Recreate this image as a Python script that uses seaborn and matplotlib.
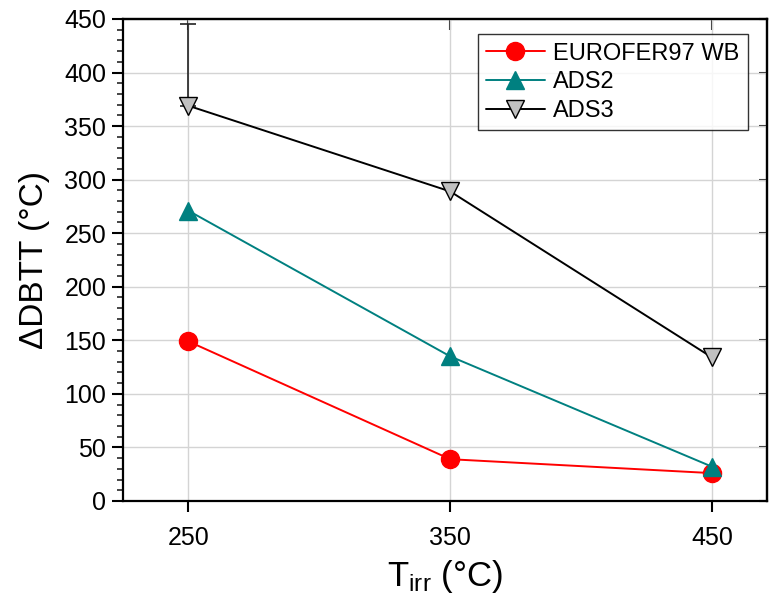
import matplotlib
matplotlib.use("Agg")
import matplotlib.pyplot as plt
import seaborn as sns
import pandas as pd
from matplotlib.ticker import MultipleLocator

# Irradiation temperatures and DBTT shifts
t_irr = [250, 350, 450]
eurofer_wb = [149, 39, 26]
ads2 = [271, 135, 32]
ads3 = [369, 289, 134]
ads3_err_upper = [76, 0, 0]

series_names = ["EUROFER97 WB", "ADS2", "ADS3"]

sns.set_theme(style="white")
plt.rcParams["font.family"] = ["Liberation Sans", "DejaVu Sans"]
plt.rcParams["mathtext.fontset"] = "custom"
plt.rcParams["mathtext.rm"] = "Liberation Sans"
plt.rcParams["mathtext.it"] = "Liberation Sans"
plt.rcParams["text.color"] = "black"
plt.rcParams["axes.labelcolor"] = "black"

df = pd.DataFrame({
    "T": t_irr * 3,
    "dDBTT": eurofer_wb + ads2 + ads3,
    "series": [s for s in series_names for _ in t_irr],
})

palette = {"EUROFER97 WB": "#ff0000", "ADS2": "#008080", "ADS3": "#000000"}
marker_map = {"EUROFER97 WB": "o", "ADS2": "^", "ADS3": "v"}
face_map = {"EUROFER97 WB": "#ff0000", "ADS2": "#008080", "ADS3": "#c0c0c0"}
edge_map = {"EUROFER97 WB": "#ff0000", "ADS2": "#008080", "ADS3": "#000000"}

fig = plt.figure(figsize=(7.71, 6.03), dpi=100)
ax = fig.add_axes([0.1595, 0.1692, 0.8353, 0.7993])

# upper error bar on ADS3 at 250 °C
ax.errorbar(t_irr[0], ads3[0], yerr=[[0], [ads3_err_upper[0]]], fmt="none",
            ecolor="#222222", elinewidth=1.2, capsize=6, capthick=1.2, zorder=2)

sns.lineplot(data=df, x="T", y="dDBTT", hue="series", style="series",
             palette=palette, markers=marker_map, dashes=False,
             linewidth=1.4, markersize=13, ax=ax, legend=False, zorder=3)

# restyle markers per series
for line, name in zip(ax.lines[-3:], series_names):
    line.set_markerfacecolor(face_map[name])
    line.set_markeredgecolor(edge_map[name])
    line.set_markeredgewidth(1.0)

ax.set_xlim(225, 471)
ax.set_ylim(0, 450)
ax.set_xticks(t_irr)
ax.yaxis.set_major_locator(MultipleLocator(50))
ax.yaxis.set_minor_locator(MultipleLocator(10))
ax.grid(True, which="major", color="#d4d4d4", linewidth=1.0)
ax.set_axisbelow(True)

for sp in ax.spines.values():
    sp.set_linewidth(1.6)
    sp.set_color("black")

ax.tick_params(axis="both", which="major", direction="out", length=8, width=1.5,
               labelsize=18, colors="black", pad=4, left=True, bottom=True)
ax.tick_params(axis="y", which="minor", direction="out", length=4.5, width=1.2,
               left=True)
ax.tick_params(axis="x", pad=10)

# inward ticks on top and right
top = ax.secondary_xaxis("top")
top.set_xticks(t_irr)
top.tick_params(direction="in", length=8, width=1.5, labeltop=False, top=True)
top.spines["top"].set_linewidth(1.6)
right = ax.secondary_yaxis("right")
right.yaxis.set_major_locator(MultipleLocator(50))
right.tick_params(direction="in", length=6, width=1.5, labelright=False, right=True)
right.spines["right"].set_linewidth(1.6)

ax.set_xlabel(r"T$_{\mathrm{irr}}$ (°C)", fontsize=25, labelpad=6)
ax.set_ylabel("ΔDBTT (°C)", fontsize=24, labelpad=10)

handles = []
for name in series_names:
    h, = ax.plot([], [], color=palette[name], marker=marker_map[name],
                 markerfacecolor=face_map[name], markeredgecolor=edge_map[name],
                 markersize=13, linewidth=1.4)
    handles.append(h)
leg = ax.legend(handles, series_names, loc="upper right",
                bbox_to_anchor=(0.97, 0.968), fontsize=17, frameon=True,
                fancybox=False, edgecolor="black", handlelength=2.5,
                handletextpad=0.35, borderpad=0.35, labelspacing=0.28,
                borderaxespad=0)
leg.get_frame().set_linewidth(1.0)

fig.savefig("out.png", dpi=100)
